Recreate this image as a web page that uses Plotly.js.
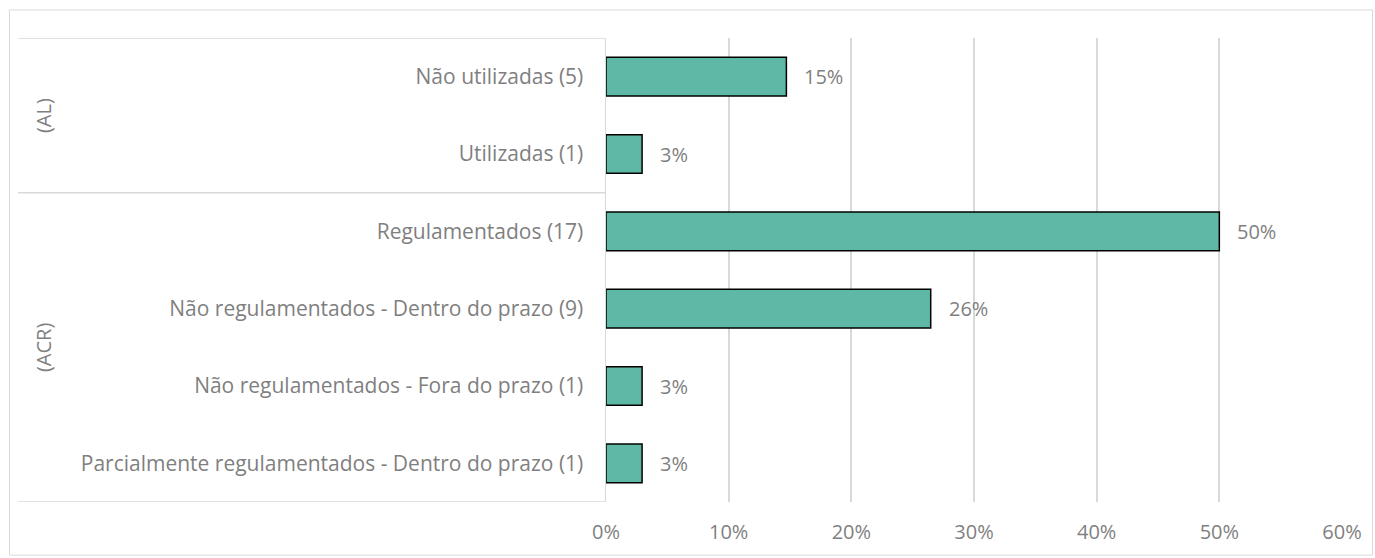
<!DOCTYPE html>
<html>
<head>
<meta charset="utf-8">
<script src="https://cdn.plot.ly/plotly-3.0.1.min.js"></script>
<style>html,body{margin:0;padding:0;background:#fff;}#chart{width:1375px;height:558px;}</style>
</head>
<body>
<div id="chart"></div>
<script>
// Data
const categories = [
  "Não utilizadas (5)",
  "Utilizadas (1)",
  "Regulamentados (17)",
  "Não regulamentados - Dentro do prazo (9)",
  "Não regulamentados - Fora do prazo (1)",
  "Parcialmente regulamentados - Dentro do prazo (1)"
];
const groups = ["(AL)", "(AL)", "(ACR)", "(ACR)", "(ACR)", "(ACR)"];
const counts = [5, 1, 17, 9, 1, 1];
const total = 34;
const percents = counts.map(c => c / total * 100);
const valueLabels = percents.map(p => Math.round(p) + "%");
const xTickVals = [0, 10, 20, 30, 40, 50, 60];
const xTickText = ["0%", "10%", "20%", "30%", "40%", "50%", "60%"];

const textColor = "#7f7f7f";
const gridColor = "#d9d9d9";
const fontFam = "Open Sans, Liberation Sans, sans-serif";
const fs = 20;

const trace = {
  type: "bar",
  orientation: "h",
  y: categories,
  x: percents,
  marker: {color: "#5fb8a6", line: {color: "#000000", width: 1.5}},
  hoverinfo: "x+y"
};

const annotations = percents.map((p, i) => ({
  x: p, y: categories[i], xref: "x", yref: "y",
  text: valueLabels[i], showarrow: false, xanchor: "left", xshift: 16,
  font: {family: fontFam, size: fs, color: textColor}
}));

const groupNames = [...new Set(groups)];
const shapes = [];
groupNames.forEach(g => {
  const idx = groups.map((v, i) => v === g ? i : -1).filter(i => i >= 0);
  const mid = (idx[0] + idx[idx.length - 1]) / 2;
  annotations.push({
    x: -0.785, xref: "paper", y: mid, yref: "y",
    text: g, textangle: -90, showarrow: false,
    font: {family: fontFam, size: fs, color: textColor}
  });
});
const boundaries = [-0.5];
for (let i = 1; i < groups.length; i++) if (groups[i] !== groups[i - 1]) boundaries.push(i - 0.5);
boundaries.push(groups.length - 0.5);
boundaries.forEach(b => shapes.push({
  type: "line", xref: "paper", yref: "y", x0: -0.799, x1: 0, y0: b, y1: b,
  line: {color: gridColor, width: 1.5}
}));
shapes.push({
  type: "rect", xref: "paper", yref: "paper", x0: -0.8105, x1: 1.0415, y0: -0.1145, y1: 1.0605,
  line: {color: gridColor, width: 1}, layer: "below"
});

const layout = {
  width: 1375, height: 558,
  margin: {l: 606, r: 33, t: 38, b: 56},
  paper_bgcolor: "#ffffff", plot_bgcolor: "#ffffff",
  showlegend: false,
  bargap: 0.5,
  font: {family: fontFam, color: textColor, size: fs},
  xaxis: {
    range: [0, 60], tickvals: xTickVals, ticktext: xTickText,
    showgrid: true, gridcolor: gridColor, gridwidth: 2, zeroline: false,
    showline: false, ticks: "", ticklen: 0, ticklabelstandoff: 16,
    tickfont: {family: fontFam, size: fs, color: textColor}
  },
  yaxis: {
    type: "category", range: [groups.length - 0.5, -0.5],
    showline: true, linecolor: gridColor, linewidth: 1.5,
    showgrid: false, ticks: "", ticklabelstandoff: 17,
    tickfont: {family: fontFam, size: 21, color: textColor}
  },
  annotations: annotations,
  shapes: shapes
};

Plotly.newPlot("chart", [trace], layout, {displayModeBar: false, staticPlot: true});
</script>
</body>
</html>
